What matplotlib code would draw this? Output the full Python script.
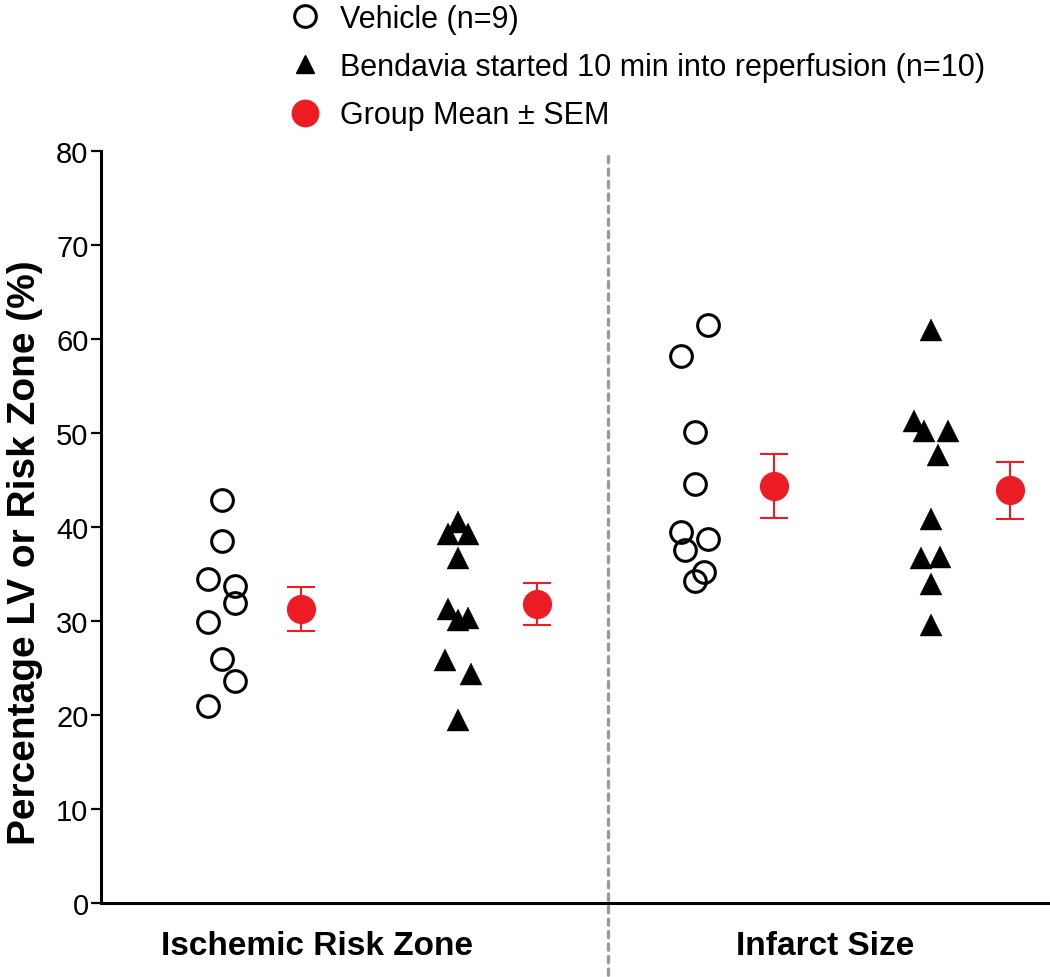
import numpy as np
import matplotlib.pyplot as plt
from matplotlib.lines import Line2D

# ====== data ======
CATEGORIES = ["Ischemic Risk Zone", "Infarct Size"]
GROUP_LABELS = ["Vehicle (n=9)",
                "Bendavia started 10 min into reperfusion (n=10)",
                "Group Mean \u00b1 SEM"]

vehicle_irz   = [42.9, 38.5, 34.5, 33.7, 31.9, 29.9, 26.0, 23.6, 21.0]
bendavia_irz  = [40.5, 39.3, 39.3, 36.7, 31.3, 30.1, 30.3, 25.9, 24.4, 19.5]
vehicle_is    = [61.5, 58.2, 50.1, 44.6, 39.5, 38.7, 37.6, 35.2, 34.3]
bendavia_is   = [61.0, 51.3, 50.2, 50.2, 47.7, 40.9, 36.7, 36.8, 33.9, 29.6]

group_means = [31.3, 31.8, 44.4, 43.9]
group_sem   = [2.35, 2.25, 3.40, 3.05]

# ====== layout knobs (scatter spread, positions) ======
GROUP_POS   = [0, 1, 2, 3]
MEAN_OFFSET = 0.334
JIT_STEP    = 0.0563
jit_vehicle_irz  = [0, 0, -1, 1, 1, -1, 0, 1, -1]
jit_bendavia_irz = [0, -0.75, 0.75, 0, -0.75, 0, 0.75, -1, 1, 0]
jit_vehicle_is   = [1, -1, 0, 0, -1, 1, -0.7, 0.7, 0]
jit_bendavia_is  = [0, -1.3, -0.55, 1.25, 0.5, 0, -0.75, 0.7, 0, 0]
DIVIDER_X   = 1.633
CAT_LABEL_X = [0.403, 2.551]

RED = "#EC1C24"
FONT = "Liberation Sans"

plt.rcParams.update({
    "font.family": FONT,
    "lines.scale_dashes": False,
})

fig = plt.figure(figsize=(10.5, 9.78), dpi=100)
ax = fig.add_axes([101 / 1050, 74 / 978, 947 / 1050, 752 / 978])

# ====== scatter of individual animals ======
series = [
    (vehicle_irz,  jit_vehicle_irz,  GROUP_POS[0], "o"),
    (bendavia_irz, jit_bendavia_irz, GROUP_POS[1], "^"),
    (vehicle_is,   jit_vehicle_is,   GROUP_POS[2], "o"),
    (bendavia_is,  jit_bendavia_is,  GROUP_POS[3], "^"),
]
for vals, jit, pos, mk in series:
    x = pos + JIT_STEP * np.asarray(jit, dtype=float)
    if mk == "o":
        ax.plot(x, vals, ls="none", marker="o", ms=15.6, mfc="none",
                mec="black", mew=2.2, zorder=3)
    else:
        ax.plot(x, vals, ls="none", marker="^", ms=16.5, mfc="black",
                mec="black", mew=0.3, zorder=3)

# ====== group means ± SEM ======
mean_x = np.asarray(GROUP_POS, dtype=float) + MEAN_OFFSET
ax.errorbar(mean_x, group_means, yerr=group_sem, fmt="o", color=RED,
            ms=20, elinewidth=1.5, capsize=10.4, capthick=1.5, zorder=4)

# ====== divider ======
ax.plot([DIVIDER_X, DIVIDER_X], [79.5, -8.2], color="#9a9a9a", lw=2.4,
        dashes=(4.5, 4.5), dash_capstyle="round", clip_on=False, zorder=2)

# ====== axes styling ======
ax.set_xlim(-0.51, 3.494)
ax.set_ylim(0, 80)
ax.set_yticks(np.arange(0, 81, 10))
ax.set_xticks([])
for s in ("top", "right"):
    ax.spines[s].set_visible(False)
for s in ("left", "bottom"):
    ax.spines[s].set_linewidth(2.2)
ax.tick_params(axis="y", direction="out", length=7, width=1.6,
               labelsize=21, pad=2)

ax.set_ylabel("Percentage LV or Risk Zone (%)", fontsize=28,
              fontweight="bold", va="center")
ax.yaxis.set_label_coords(-0.080, 0.467)

for cx, name in zip(CAT_LABEL_X, CATEGORIES):
    ax.text(cx, -4.5, name, ha="center", va="center", fontsize=24,
            fontweight="bold", transform=ax.transData)

# ====== legend ======
handles = [
    Line2D([], [], ls="none", marker="o", ms=15.6, mfc="none", mec="black", mew=2.2),
    Line2D([], [], ls="none", marker="^", ms=13, mfc="black", mec="black"),
    Line2D([], [], ls="none", marker="o", ms=19, color=RED),
]
fig.legend(handles, GROUP_LABELS, loc="upper left",
           bbox_to_anchor=(268 / 1050, 1.014), frameon=False, fontsize=22,
           handletextpad=0.55, labelspacing=0.6, borderpad=0.1,
           handlelength=1.2)

fig.savefig("out.png", dpi=100)
